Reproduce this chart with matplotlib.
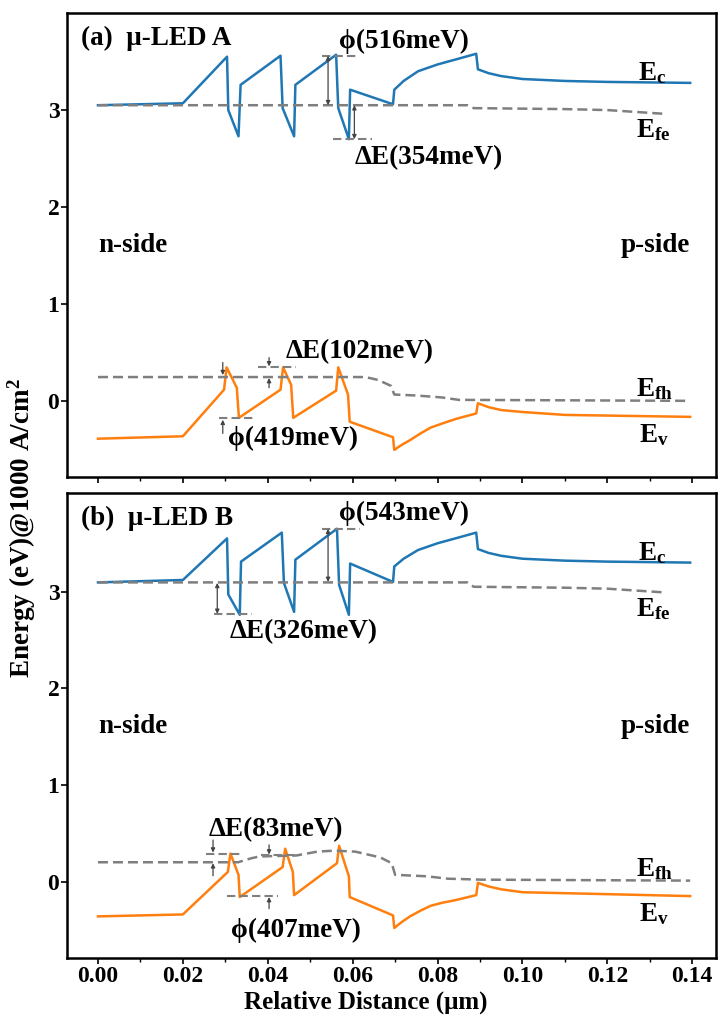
import matplotlib
matplotlib.use('Agg')
import matplotlib.pyplot as plt
from matplotlib.ticker import MultipleLocator, FormatStrFormatter

plt.rcParams['font.family'] = ['Liberation Serif', 'DejaVu Serif']
plt.rcParams['font.weight'] = 'bold'
plt.rcParams['mathtext.fontset'] = 'custom'
plt.rcParams['mathtext.rm'] = 'Liberation Serif:bold'
plt.rcParams['mathtext.it'] = 'Liberation Serif:bold'
plt.rcParams['mathtext.bf'] = 'Liberation Serif:bold'

# ---- panel (a) : u-LED A ----
a_ec_x = [0, 0.020, 0.0304, 0.0307, 0.0331, 0.0336, 0.0430, 0.0435, 0.0462, 0.0465,
          0.0561, 0.0566, 0.0591, 0.0594, 0.0695, 0.0698, 0.072, 0.0754, 0.080,
          0.085, 0.0891, 0.0895, 0.092, 0.095, 0.100, 0.105, 0.110, 0.120, 0.1395]
a_ec_y = [3.05, 3.07, 3.55, 3.00, 2.73, 3.26, 3.56, 3.02, 2.73, 3.26,
          3.57, 3.02, 2.70, 3.21, 3.06, 3.21, 3.30, 3.40, 3.47,
          3.53, 3.58, 3.42, 3.38, 3.35, 3.32, 3.31, 3.30, 3.29, 3.28]
a_efe_x = [0, 0.087, 0.0885, 0.110, 0.120, 0.1339]
a_efe_y = [3.05, 3.05, 3.02, 3.01, 3.00, 2.96]
a_ev_x = [0, 0.020, 0.0297, 0.0303, 0.0327, 0.0332, 0.0430, 0.0436, 0.0455, 0.0460,
          0.0561, 0.0566, 0.0589, 0.0593, 0.0695, 0.0698, 0.0715, 0.0735, 0.076,
          0.0784, 0.081, 0.0844, 0.0891, 0.0895, 0.092, 0.095, 0.100, 0.110, 0.1395]
a_ev_y = [-0.385, -0.36, 0.12, 0.35, 0.14, -0.17, 0.12, 0.35, 0.17, -0.17,
          0.11, 0.35, 0.07, -0.21, -0.37, -0.50, -0.45, -0.40, -0.33,
          -0.27, -0.23, -0.18, -0.125, -0.02, -0.06, -0.09, -0.11, -0.14, -0.16]
a_efh_x = [0, 0.063, 0.066, 0.0690, 0.0698, 0.075, 0.081, 0.085, 0.1395]
a_efh_y = [0.25, 0.25, 0.22, 0.16, 0.07, 0.06, 0.04, 0.015, 0.005]

# ---- panel (b) : u-LED B ----
b_ec_x = [0, 0.020, 0.0304, 0.0307, 0.0334, 0.0337, 0.0433, 0.0438, 0.0462, 0.0465,
          0.0563, 0.0568, 0.0591, 0.0594, 0.0695, 0.0698, 0.072, 0.0754, 0.080,
          0.085, 0.0891, 0.0895, 0.092, 0.095, 0.100, 0.105, 0.110, 0.120, 0.1395]
b_ec_y = [3.095, 3.12, 3.55, 2.97, 2.76, 3.31, 3.61, 3.09, 2.79, 3.33,
          3.65, 3.07, 2.76, 3.29, 3.10, 3.26, 3.34, 3.43, 3.50,
          3.56, 3.61, 3.44, 3.40, 3.37, 3.34, 3.33, 3.32, 3.31, 3.30]
b_efe_x = [0, 0.087, 0.0885, 0.110, 0.120, 0.1339]
b_efe_y = [3.095, 3.095, 3.05, 3.04, 3.03, 2.99]
b_ev_x = [0, 0.020, 0.0306, 0.0312, 0.0331, 0.0334, 0.0435, 0.0441, 0.0459, 0.0462,
          0.0563, 0.0568, 0.0591, 0.0593, 0.0695, 0.0698, 0.0715, 0.0735, 0.076,
          0.0784, 0.081, 0.0844, 0.0891, 0.0895, 0.092, 0.095, 0.100, 0.110, 0.1395]
b_ev_y = [-0.36, -0.34, 0.10, 0.29, 0.07, -0.16, 0.15, 0.34, 0.10, -0.14,
          0.19, 0.37, 0.055, -0.16, -0.35, -0.48, -0.42, -0.36, -0.30,
          -0.25, -0.22, -0.19, -0.14, -0.013, -0.05, -0.08, -0.11, -0.12, -0.15]
b_efh_x = [0, 0.033, 0.036, 0.038, 0.0467, 0.0517, 0.0556, 0.0606, 0.0665, 0.0692,
           0.0700, 0.0774, 0.0824, 0.0903, 0.1395]
b_efh_y = [0.20, 0.20, 0.24, 0.26, 0.27, 0.31, 0.32, 0.31, 0.25, 0.19,
           0.07, 0.055, 0.03, 0.02, 0.01]

# annotations: (text, x, y)
a_notes = [('\u03d5(516meV)', 0.072, 3.71), ('\u0394E(354meV)', 0.078, 2.51),
           ('\u0394E(102meV)', 0.0616, 0.51), ('\u03d5(419meV)', 0.046, -0.38)]
b_notes = [('\u03d5(543meV)', 0.072, 3.81), ('\u0394E(326meV)', 0.0485, 2.59),
           ('\u0394E(83meV)', 0.042, 0.54), ('\u03d5(407meV)', 0.0467, -0.51)]
# short dashed marker lines: (x0, x1, y)
a_marks = [(0.0527, 0.0616, 3.56), (0.0554, 0.0645, 2.70),
           (0.0376, 0.0467, 0.35), (0.0284, 0.0373, -0.17)]
b_marks = [(0.0527, 0.0618, 3.65), (0.0274, 0.0363, 2.77),
           (0.0254, 0.0334, 0.29), (0.0383, 0.0467, 0.27), (0.0304, 0.0423, -0.15)]
# arrows: (x, y_from, y_to, style)
a_arrows = [(0.0542, 3.56, 3.05, '<|-|>'), (0.0604, 3.05, 2.70, '<|-|>'),
            (0.0403, 0.45, 0.36, '-|>'), (0.0403, 0.14, 0.24, '-|>'),
            (0.0294, 0.40, 0.27, '-|>'), (0.0294, -0.33, -0.19, '-|>')]
b_arrows = [(0.0542, 3.65, 3.10, '<|-|>'), (0.0281, 3.09, 2.77, '<|-|>'),
            (0.0271, 0.43, 0.30, '-|>'), (0.0271, 0.06, 0.19, '-|>'),
            (0.0403, 0.38, 0.28, '-|>'), (0.0403, -0.28, -0.16, '-|>')]

FS = 19.5
TFS = 17
blue = '#1f77b4'
orange = '#ff7f0e'
gray = '#7f7f7f'

fig = plt.figure(figsize=(7.18, 10.15), dpi=100)
ax1 = fig.add_axes([0.0933, 0.530, 0.904, 0.4572])
ax2 = fig.add_axes([0.0933, 0.0562, 0.904, 0.4581], sharex=ax1)


def draw(ax, ec, efe, ev, efh, notes, marks, arrows, title, ylim):
    ax.plot(ec[0], ec[1], color=blue, lw=1.8)
    ax.plot(ev[0], ev[1], color=orange, lw=1.8)
    ax.plot(efe[0], efe[1], color=gray, lw=1.8, ls=(0, (4, 2)))
    ax.plot(efh[0], efh[1], color=gray, lw=1.8, ls=(0, (4, 2)))
    for x0, x1, y in marks:
        ax.plot([x0, x1], [y, y], color=gray, lw=1.5, ls=(0, (4, 2)))
    for x, y0, y1, st in arrows:
        ax.annotate('', xy=(x, y1), xytext=(x, y0),
                    arrowprops=dict(arrowstyle=st, color='#444444', lw=0.9,
                                    mutation_scale=6, shrinkA=0, shrinkB=0))
    for t, x, y in notes:
        ax.text(x, y, t, fontsize=FS, ha='center', va='center')
    ax.text(0.022, 0.945, title, transform=ax.transAxes, fontsize=FS, va='center')
    ax.text(0.0, 1.6, 'n-side', fontsize=FS, va='center')
    ax.text(0.1395, 1.6, 'p-side', fontsize=FS, va='center', ha='right')
    ax.text(0.1272, ec[1][-1] + 0.1, r'E$_{\mathrm{c}}$', fontsize=FS, va='center')
    ax.text(0.1268, efe[1][-1] - 0.17, r'E$_{\mathrm{fe}}$', fontsize=FS, va='center')
    ax.text(0.1268, efh[1][-1] + 0.12, r'E$_{\mathrm{fh}}$', fontsize=FS, va='center')
    ax.text(0.1275, ev[1][-1] - 0.19, r'E$_{\mathrm{v}}$', fontsize=FS, va='center')
    ax.set_xlim(-0.0073, 0.1456)
    ax.set_ylim(*ylim)
    ax.set_yticks([0, 1, 2, 3])
    ax.xaxis.set_major_locator(MultipleLocator(0.02))
    ax.xaxis.set_minor_locator(MultipleLocator(0.01))
    ax.tick_params(direction='out', width=1.2, length=4, labelsize=TFS, pad=1.5)
    ax.tick_params(which='minor', direction='out', width=1.0, length=3)
    for s in ax.spines.values():
        s.set_linewidth(1.8)


draw(ax1, (a_ec_x, a_ec_y), (a_efe_x, a_efe_y), (a_ev_x, a_ev_y), (a_efh_x, a_efh_y),
     a_notes, a_marks, a_arrows, '(a)  \u03bc-LED A', (-0.78, 4.0))
draw(ax2, (b_ec_x, b_ec_y), (b_efe_x, b_efe_y), (b_ev_x, b_ev_y), (b_efh_x, b_efh_y),
     b_notes, b_marks, b_arrows, '(b)  \u03bc-LED B', (-0.79, 4.02))

plt.setp(ax1.get_xticklabels(), visible=False)
ax2.xaxis.set_major_formatter(FormatStrFormatter('%.2f'))
fig.text(0.51, 0.001, 'Relative Distance (\u03bcm)', fontsize=18,
         fontweight='bold', ha='center', va='bottom')
fig.text(0.03, 0.48, r'Energy (eV)@1000 A/cm$^{\mathrm{2}}$', rotation=90,
         fontsize=FS, fontweight='bold', ha='center', va='center')

fig.savefig('out.png', dpi=100)
